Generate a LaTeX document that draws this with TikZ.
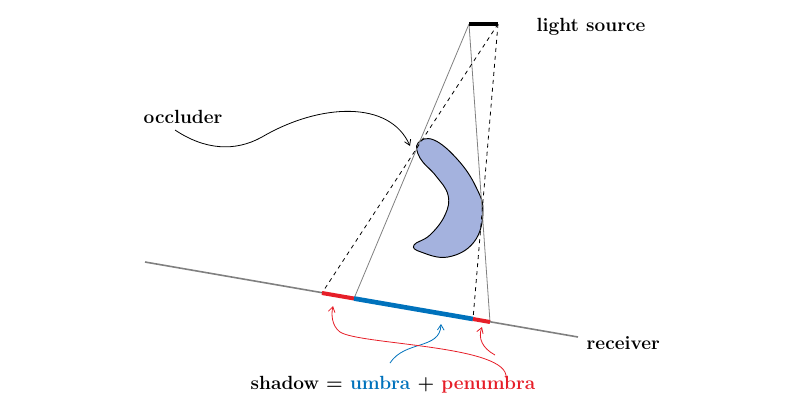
\documentclass[tikz,border=0pt]{standalone}
\usetikzlibrary{arrows.meta}
\definecolor{blobfill}{RGB}{164,178,222}
\definecolor{umb}{RGB}{0,114,188}
\definecolor{pen}{RGB}{230,30,40}
\begin{document}
\begin{tikzpicture}[x=0.75pt,y=-0.75pt,
  lbl/.style={font=\fontsize{14.3}{16}\selectfont\bfseries},
  ray/.style={draw=gray,line width=0.6pt},
  dray/.style={draw=black,dashed,line width=0.6pt},
  ptr/.style={-{Straight Barb[length=4pt,width=5pt]},line width=0.6pt}]
\useasboundingbox (0,0) rectangle (808,419);
\coordinate (L1) at (469,24); \coordinate (L2) at (498,24);
\coordinate (R0) at (145,262); \coordinate (R1) at (578,337);
\coordinate (P1) at (322,293); \coordinate (U1) at (354,298.5);
\coordinate (U2) at (473,319); \coordinate (P2) at (490,322);
\draw[gray,line width=1.2pt] (R0) -- (R1);
\filldraw[fill=blobfill,draw=black,line width=0.7pt] plot[smooth cycle,tension=0.7] coordinates
 {(418,143) (434,140) (458,160) (476,187) (483,212) (474,242) (448,257) (421,252) (414,245) (430,235) (445,215) (448,195) (436,176) (420,158)};
\draw[ray] (L1) -- (U1);
\draw[ray] (L1) -- (P2);
\draw[dray] (L2) -- (P1);
\draw[dray] (L2) -- (U2);
\draw[line width=3pt] (L1) -- (L2);
\draw[pen,line width=3pt] (P1) -- (U1);
\draw[umb,line width=3.5pt] (U1) -- (U2);
\draw[pen,line width=3pt] (U2) -- (P2);
\node[lbl,anchor=west] (ls) at (532,27) {light source};
\node[lbl,anchor=west] (occ) at (139,117) {occluder};
\node[lbl,anchor=west] (rec) at (582,343) {receiver};
\node[lbl,anchor=base] (eq) at (393,389) {shadow = \textcolor{umb}{umbra} + \textcolor{pen}{penumbra}};
\coordinate (oa) at (410,146);
\draw[ptr] (175,130) .. controls (205,150) and (235,152) .. (262,137) .. controls (320,103) and (390,100) .. (oa);
\coordinate (ua) at (441,324);
\draw[ptr,umb] (390,363) .. controls (405,340) and (440,350) .. (ua);
\coordinate (pa1) at (333,306); \coordinate (pa2) at (482,327);
\draw[ptr,pen] (506,378) .. controls (510,345) and (360,345) .. (340,332) .. controls (332,326) and (331,315) .. (pa1);
\draw[ptr,pen] (495,355) .. controls (482,348) and (478,338) .. (pa2);
\end{tikzpicture}
\end{document}
